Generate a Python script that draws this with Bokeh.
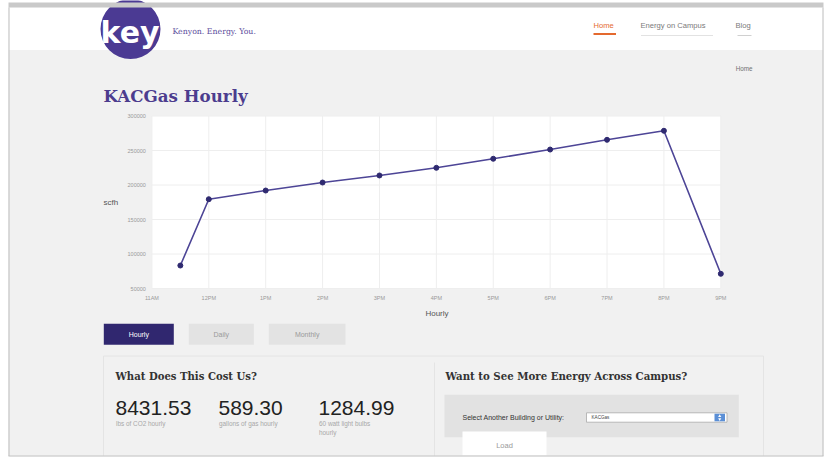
from bokeh.plotting import figure
from bokeh.models import Range1d
from bokeh.core.properties import value
from bokeh.embed import file_html
from bokeh.resources import INLINE

# ---------------- data ----------------
hours = [11.5, 12, 13, 14, 15, 16, 17, 18, 19, 20, 21]
scfh = [83300, 179400, 192000, 203600, 213800, 224900, 238000, 251400, 265500, 278600, 71300]
x_ticks = [11, 12, 13, 14, 15, 16, 17, 18, 19, 20, 21]
x_tick_labels = ["11AM", "12PM", "1PM", "2PM", "3PM", "4PM", "5PM", "6PM", "7PM", "8PM", "9PM"]
y_ticks = [50000, 100000, 150000, 200000, 250000, 300000]
y_tick_labels = ["50000", "100000", "150000", "200000", "250000", "300000"]
stat_values = ["8431.53", "589.30", "1284.99"]
stat_labels = [["lbs of CO2 hourly"], ["gallons of gas hourly"], ["60 watt light bulbs", "hourly"]]
nav_items = ["Home", "Energy on Campus", "Blog"]
buttons = ["Hourly", "Daily", "Monthly"]

# ---------------- page frame in pixel units ----------------
W, H = 831, 458
X0, X1, Y0, Y1 = 0, W, 0, H
SANS = "Liberation Sans"
SERIF = "DejaVu Serif"
PAGE = "#f1f1f1"
PURPLE = "#4c3c8e"

p = figure(width=W, height=H, x_range=Range1d(X0, X1), y_range=Range1d(Y1, Y0),
           x_axis_type=None, y_axis_type=None, toolbar_location=None, tools="",
           output_backend="svg", min_border=0, background_fill_color="white",
           border_fill_color="white", outline_line_color=None)

# chart placement (pixels of the 11AM/9PM and 50000/300000 lines)
CX0, CX1 = 151.4, 720.3
CY0, CY1 = 288.0, 115.5


def hx(px):
    return x_ticks[0] + (px - CX0) / (CX1 - CX0) * (x_ticks[-1] - x_ticks[0])


def vy(py):
    return y_ticks[0] + (CY0 - py) / (CY0 - CY1) * (y_ticks[-1] - y_ticks[0])


p.extra_x_ranges = {"t": Range1d(hx(X0), hx(X1))}
p.extra_y_ranges = {"v": Range1d(vy(Y1), vy(Y0))}
C = dict(x_range_name="t", y_range_name="v")


def txt(x, y, s, size, color, font=SANS, style="normal", align="left", **kw):
    p.text(x=[x], y=[y], text=[s], text_font=value(font),
           text_font_size=value(f"{size}px"), text_color=color,
           text_font_style=style, text_align=align, text_baseline="middle", **kw)


def box(l, r, t, b, fill, line=None, lw=1):
    p.quad(left=[l], right=[r], top=[t], bottom=[b], fill_color=fill,
           line_color=line, line_width=lw)


# ---------------- page container ----------------
box(8, 823, 7, 455, PAGE)
box(8, 823, 7, 49.5, "white")

# ---------------- header ----------------
p.circle(x=[130], y=[28.5], radius=30, fill_color="#4b3a93", line_color=None)
box(8, 823, 2, 7, "#c9c9c9")
txt(100, 32, "key", 30, "white", font="DejaVu Sans", style="bold")
txt(172, 30.5, "Kenyon. Energy. You.", 7.8, "#5a4b9b", font=SERIF)

nav_x = [593, 640, 735]
nav_c = ["#e4692e", "#7a7a7a", "#7a7a7a"]
for s, x, c in zip(nav_items, nav_x, nav_c):
    txt(x, 25, s, 7.6, c)
p.segment(x0=[593], y0=[33.5], x1=[615.5], y1=[33.5], line_color="#e4692e", line_width=2)
p.segment(x0=[641], y0=[35], x1=[712], y1=[35], line_color="#c4c4c4", line_width=1, line_dash="1 1")
p.segment(x0=[737], y0=[35], x1=[751], y1=[35], line_color="#d0d0d0", line_width=1)

txt(752, 68, "Home", 6.3, "#707070", align="right")

# title
txt(103, 95, "KACGas Hourly", 16.7, PURPLE, font=SERIF, style="bold")

# ---------------- chart ----------------
p.quad(left=[x_ticks[0]], right=[x_ticks[-1]], bottom=[y_ticks[0]], top=[y_ticks[-1]],
       fill_color="white", line_color=None, **C)
p.segment(x0=x_ticks, y0=[y_ticks[0]] * len(x_ticks), x1=x_ticks, y1=[y_ticks[-1]] * len(x_ticks),
          line_color="#eeeeee", line_width=1, **C)
p.segment(x0=[x_ticks[0]] * len(y_ticks), y0=y_ticks, x1=[x_ticks[-1]] * len(y_ticks), y1=y_ticks,
          line_color="#eeeeee", line_width=1, **C)
p.line(x=hours, y=scfh, line_color="#4d4596", line_width=1.6, **C)
p.scatter(x=hours, y=scfh, size=5, fill_color="#2f2a70", line_color="#2f2a70", **C)

p.text(x=[x_ticks[0]] * len(y_ticks), y=y_ticks, text=y_tick_labels, x_offset=-6,
       text_font=value(SANS), text_font_size=value("5.5px"), text_color="#999999",
       text_align="right", text_baseline="middle", **C)
p.text(x=x_ticks, y=[y_ticks[0]] * len(x_ticks), text=x_tick_labels, y_offset=9,
       text_font=value(SANS), text_font_size=value("5.5px"), text_color="#999999",
       text_align="center", text_baseline="middle", **C)
txt(103, 201.5, "scfh", 8, "#555555")
txt(436.5, 313, "Hourly", 8, "#555555", align="center")

# ---------------- buttons ----------------
btn_l = [103.3, 188.3, 268.3]
btn_r = [173.3, 253.3, 345.0]
btn_fill = ["#30276f", "#e3e3e3", "#e3e3e3"]
btn_txt = ["white", "#9a9a9a", "#9a9a9a"]
for s, l, r, f, c in zip(buttons, btn_l, btn_r, btn_fill, btn_txt):
    box(l, r, 323.3, 344.3, f)
    txt((l + r) / 2, 334, s, 7, c, align="center")

# ---------------- lower panels ----------------
p.segment(x0=[103, 103, 763, 434], y0=[355.5, 355.5, 355.5, 362],
          x1=[763, 103, 763, 434], y1=[355.5, 455, 455, 455], line_color="#e4e4e4", line_width=1)

txt(115, 375.5, "What Does This Cost Us?", 10.1, "#333333", font=SERIF, style="bold")
stat_x = [115, 218, 318]
for s, lab, x in zip(stat_values, stat_labels, stat_x):
    txt(x, 407.5, s, 21, "#222222")
    for i, line in enumerate(lab):
        txt(x + 0.5, 422.5 + 9.5 * i, line, 6.4, "#a8a8a8")

txt(445, 375.7, "Want to See More Energy Across Campus?", 10.2, "#333333", font=SERIF, style="bold")
box(444, 738.3, 394.3, 436.7, "#e2e2e2")
txt(462, 416.7, "Select Another Building or Utility:", 7, "#333333")
box(586, 726.5, 412.3, 421.7, "white", line="#a9a9a9", lw=0.8)
txt(591, 417, "KACGas", 4.6, "#444444")
box(714, 724.5, 413.2, 420.8, "#5b8fd6")
p.scatter(x=[719.2, 719.2], y=[415.6, 418.6], marker=["triangle", "inverted_triangle"],
          size=3.2, fill_color="white", line_color=None)
box(462, 546, 431, 455, "white")
txt(504, 445, "Load", 7.5, "#9a9a9a", align="center")

# page edges
p.segment(x0=[8.5, 822.5, 8], y0=[7, 7, 455.5], x1=[8.5, 822.5, 823], y1=[455.5, 455.5, 455.5],
          line_color="#bdbdbd", line_width=1)

open("out.html", "w").write(file_html(p, INLINE))
